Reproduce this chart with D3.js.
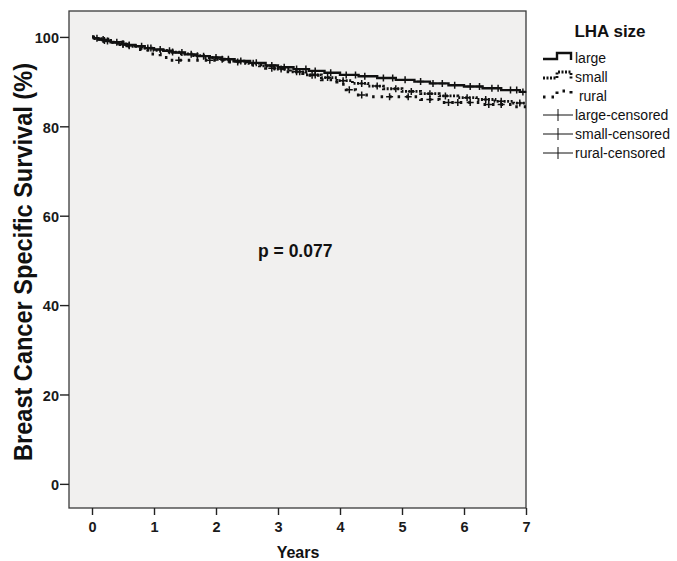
<!DOCTYPE html>
<html lang="en">
<head>
<meta charset="utf-8" />
<title>Breast Cancer Specific Survival by LHA size</title>
<script src="https://cdn.jsdelivr.net/npm/d3@7"></script>
<style>
    body { margin: 0; background: #fff; }
    text { font-family: "Liberation Sans", Arial, sans-serif; }
</style>
</head>
<body>
<div id='chart'></div>
<script>

    // step curves: time (years) of each event and survival (%) after it
    let largeT = [0.03, 0.1, 0.2, 0.3, 0.42, 0.55, 0.7, 0.85, 1.0, 1.15, 1.3, 1.5, 1.7, 1.9, 2.1, 2.3, 2.55, 2.8, 3.0, 3.25, 3.5, 3.75, 4.0, 4.3, 4.6, 4.9, 5.2, 5.45, 5.75, 6.0, 6.3, 6.6, 6.9];
    let largeS = [99.7, 99.4, 99.1, 98.8, 98.5, 98.2, 97.9, 97.5, 97.2, 96.9, 96.5, 96.1, 95.7, 95.4, 95.0, 94.6, 94.2, 93.6, 93.2, 92.8, 92.4, 92.0, 91.5, 91.2, 90.8, 90.4, 90.0, 89.6, 89.2, 88.9, 88.5, 88.1, 87.7];

    let smallT = [0.05, 0.15, 0.3, 0.45, 0.6, 0.8, 1.0, 1.2, 1.4, 1.6, 1.8, 2.0, 2.2, 2.45, 2.7, 2.95, 3.2, 3.45, 3.7, 3.95, 4.2, 4.45, 4.7, 5.0, 5.3, 5.6, 5.9, 6.2, 6.5, 6.8];
    let smallS = [99.6, 99.2, 98.8, 98.3, 97.9, 97.5, 97.0, 96.6, 96.2, 95.8, 95.4, 95.0, 94.6, 94.1, 93.5, 92.8, 92.2, 91.5, 90.9, 90.2, 89.6, 89.0, 88.4, 87.8, 87.3, 86.8, 86.4, 86.0, 85.6, 85.2];

    let ruralT = [0.1, 0.3, 0.5, 0.7, 0.9, 1.1, 1.25, 2.2, 2.5, 2.8, 3.1, 3.4, 3.7, 3.95, 4.1, 4.25, 4.5, 5.3, 5.6, 6.3, 6.8];
    let ruralS = [99.5, 98.8, 98.0, 97.2, 96.2, 95.4, 94.8, 94.4, 93.8, 93.0, 92.2, 91.4, 90.4, 89.4, 88.2, 87.0, 86.6, 86.0, 85.3, 84.9, 84.4];

    // censored observations (years)
    let largeCens = [0.08, 0.18, 0.25, 0.4, 0.5, 0.6, 0.8, 0.95, 1.1, 1.25, 1.45, 1.6, 1.8, 2.0, 2.2, 2.4, 2.65, 2.9, 3.1, 3.3, 3.45, 3.6, 3.85, 4.1, 4.25, 4.4, 4.7, 4.85, 5.05, 5.3, 5.5, 5.65, 5.85, 6.1, 6.25, 6.45, 6.55, 6.75, 6.85, 6.95];
    let smallCens = [0.2, 0.5, 0.9, 1.3, 1.7, 2.1, 2.6, 3.05, 3.35, 3.6, 3.8, 4.05, 4.35, 4.6, 4.9, 5.15, 5.45, 5.7, 6.05, 6.35, 6.6, 6.9];
    let ruralCens = [0.6, 1.4, 1.9, 2.35, 2.9, 3.3, 3.55, 4.15, 4.35, 4.8, 5.1, 5.45, 5.75, 5.9, 6.1, 6.4, 6.6];

    let groups = ['large', 'small', 'rural'];
    let legendLabels = ['large', 'small', ' rural', 'large-censored', 'small-censored', 'rural-censored'];
    let yTicks = [0, 20, 40, 60, 80, 100];
    let xTicks = [0, 1, 2, 3, 4, 5, 6, 7];

    let W = 677, H = 561;
    let plot = { left: 69, right: 526, top: 11, bottom: 508 };

    let svg = d3.select('#chart')
        .append('svg')
        .attr('width', W)
        .attr('height', H);

    let x = d3.scaleLinear()
        .domain([-0.371, 7])
        .range([plot.left, plot.right]);

    let y = d3.scaleLinear()
        .domain([-5.4, 105.8])
        .range([plot.bottom, plot.top]);

    svg.append('rect')
        .attr('x', plot.left)
        .attr('y', plot.top)
        .attr('width', plot.right - plot.left)
        .attr('height', plot.bottom - plot.top)
        .attr('fill', '#f1f0ef')
        .attr('stroke', '#3a3a3a')
        .attr('stroke-width', 1.3);

    let yAxis = d3.axisLeft(y).tickValues(yTicks).tickSize(9).tickPadding(1);
    let xAxis = d3.axisBottom(x).tickValues(xTicks).tickSize(7).tickPadding(7);

    let gy = svg.append('g')
        .attr('transform', 'translate(' + plot.left + ',0)')
        .call(yAxis);
    let gx = svg.append('g')
        .attr('transform', 'translate(0,' + plot.bottom + ')')
        .call(xAxis);

    [gx, gy].forEach(g => {
        g.select('.domain').remove();
        g.selectAll('.tick line').attr('stroke', '#222').attr('stroke-width', 1.4);
        g.selectAll('.tick text')
            .attr('fill', '#1a1a1a')
            .style('font-size', '14.5px')
            .style('font-weight', 'bold')
            .style('font-family', '"Liberation Sans", Arial, sans-serif');
    });
    gy.selectAll('.tick text').attr('dy', '0.4em');

    svg.append('text')
        .attr('transform', 'translate(32,' + 262 + ') rotate(-90)')
        .attr('text-anchor', 'middle')
        .attr('textLength', 398)
        .attr('lengthAdjust', 'spacingAndGlyphs')
        .style('font-size', '26px')
        .style('font-weight', 'bold')
        .attr('fill', '#111')
        .text('Breast Cancer Specific Survival (%)');

    svg.append('text')
        .attr('x', 298)
        .attr('y', 558)
        .attr('text-anchor', 'middle')
        .style('font-size', '16px')
        .style('font-weight', 'bold')
        .attr('fill', '#111')
        .text('Years');

    svg.append('text')
        .attr('x', 258)
        .attr('y', 257)
        .style('font-size', '17.5px')
        .style('font-weight', 'bold')
        .attr('fill', '#111')
        .text('p = 0.077');

    let series = {
        large: { t: largeT, s: largeS, cens: largeCens, dash: null, width: 2.4 },
        small: { t: smallT, s: smallS, cens: smallCens, dash: '2,1.5', width: 2.8 },
        rural: { t: ruralT, s: ruralS, cens: ruralCens, dash: '2.5,6', width: 3 }
    };

    // survival at time t from a step curve
    function survAt(d, t) {
        let v = 100;
        for (let i = 0; i < d.t.length; i++) {
            if (d.t[i] <= t) v = d.s[i];
        }
        return v;
    }

    let line = d3.line()
        .x(d => x(d[0]))
        .y(d => y(d[1]))
        .curve(d3.curveStepAfter);

    let gCurves = svg.append('g');

    groups.slice().reverse().forEach(k => {
        let d = series[k];
        let pts = [[0, 100]];
        d.t.forEach((t, i) => pts.push([t, d.s[i]]));
        pts.push([7, d.s[d.s.length - 1]]);

        gCurves.append('path')
            .datum(pts)
            .attr('d', line)
            .attr('fill', 'none')
            .attr('stroke', '#111')
            .attr('stroke-width', d.width)
            .attr('stroke-dasharray', d.dash);

        gCurves.selectAll('.cens-' + k)
            .data(d.cens)
            .enter().append('path')
            .attr('class', 'cens-' + k)
            .attr('d', c => {
                let cx = x(c), cy = y(survAt(d, c));
                return 'M' + (cx - 3.5) + ',' + cy + 'H' + (cx + 3.5) + 'M' + cx + ',' + (cy - 3.5) + 'V' + (cy + 3.5);
            })
            .attr('stroke', '#111')
            .attr('stroke-width', 1.5);
    });

    // legend
    let lg = svg.append('g');
    lg.append('text')
        .attr('x', 610)
        .attr('y', 37)
        .attr('text-anchor', 'middle')
        .style('font-size', '17px')
        .style('font-weight', 'bold')
        .attr('fill', '#111')
        .text('LHA size');

    let rowY = [58, 77, 96, 115, 134, 153];
    legendLabels.forEach((lab, i) => {
        let ry = rowY[i];
        if (i < 3) {
            let d = series[groups[i]];
            lg.append('path')
                .attr('d', 'M543,' + (ry + 1) + 'H557V' + (ry - 5) + 'H571V' + (ry + 2))
                .attr('fill', 'none')
                .attr('stroke', '#111')
                .attr('stroke-width', d.width)
                .attr('stroke-dasharray', d.dash);
        } else {
            lg.append('path')
                .attr('d', 'M543,' + ry + 'H573M558,' + (ry - 6) + 'V' + (ry + 6))
                .attr('stroke', '#111')
                .attr('stroke-width', 1);
        }
        lg.append('text')
            .attr('x', 575)
            .attr('y', ry + 5)
            .style('font-size', '14px')
            .attr('fill', '#111')
            .style('white-space', 'pre')
            .attr('xml:space', 'preserve')
            .text(lab);
    });

</script>
</body>
</html>
